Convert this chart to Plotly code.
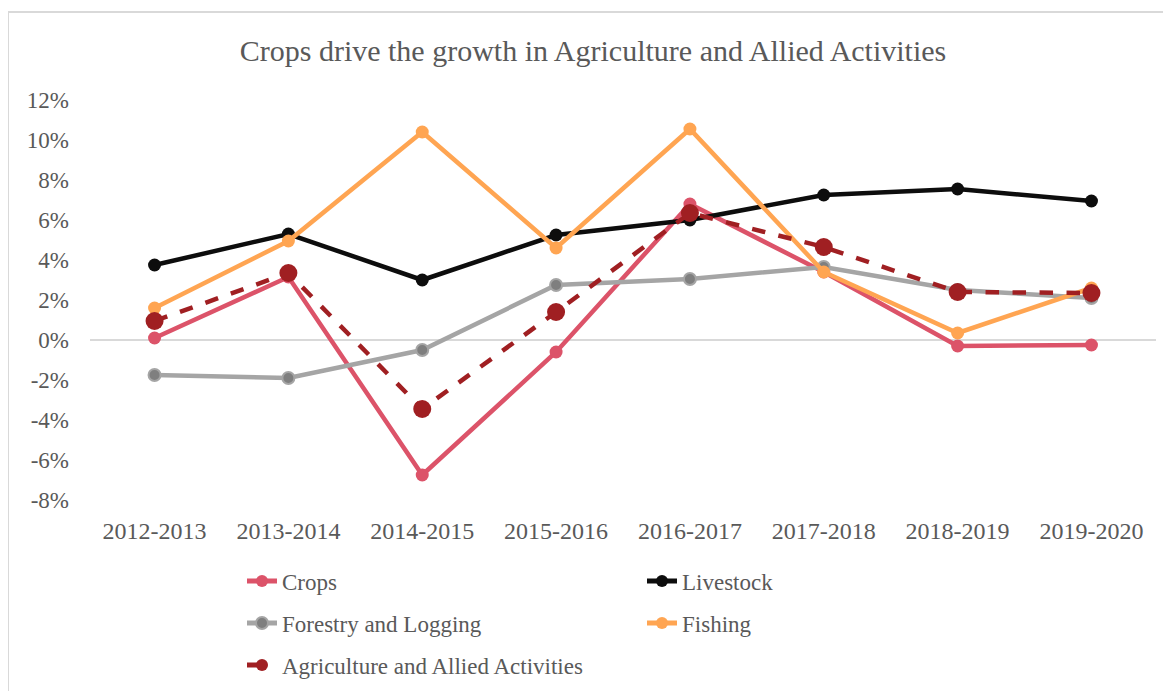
import plotly.graph_objects as go

years = ["2012-2013", "2013-2014", "2014-2015", "2015-2016",
         "2016-2017", "2017-2018", "2018-2019", "2019-2020"]
crops = [0.001, 0.0315, -0.0675, -0.006, 0.068, 0.034, -0.003, -0.0025]
livestock = [0.0375, 0.053, 0.030, 0.0525, 0.060, 0.0725, 0.0755, 0.0695]
forestry = [-0.0175, -0.019, -0.005, 0.0275, 0.0305, 0.0365, 0.025, 0.021]
fishing = [0.016, 0.0495, 0.104, 0.046, 0.1055, 0.034, 0.0035, 0.026]
agri = [0.0095, 0.0335, -0.0345, 0.014, 0.0635, 0.0465, 0.024, 0.0235]

y_tickvals = [-0.08, -0.06, -0.04, -0.02, 0, 0.02, 0.04, 0.06, 0.08, 0.10, 0.12]
y_ticktext = ["-8%", "-6%", "-4%", "-2%", "0%", "2%", "4%", "6%", "8%", "10%", "12%"]

FONT = "Liberation Serif, Times New Roman, serif"
TXT = "#595959"

OFF = 8  # page body margin offset
W, H = 1171, 691
# target page-pixel geometry of plot area
PL, PR, PT, PB = 90, 1156, 100, 500
L, T = PL - OFF, PT - OFF
R = W - (PR - OFF)
B = H - (PB - OFF)
pw, ph = PR - PL, PB - PT


def px_x(x):
    return (x - PL) / pw


def px_y(y):
    return (PB - y) / ph


series = [
    ("Crops", crops, dict(color="#DC5369", width=4.5), dict(color="#DC5369", size=13), "legend"),
    ("Livestock", livestock, dict(color="#0D0D0D", width=4.5), dict(color="#0D0D0D", size=13), "legend2"),
    ("Forestry and Logging", forestry, dict(color="#A5A5A5", width=4.5),
     dict(color="#7F7F7F", size=12, line=dict(color="#A5A5A5", width=2)), "legend3"),
    ("Fishing", fishing, dict(color="#FFA552", width=4.5), dict(color="#FFA552", size=13), "legend4"),
    ("Agriculture and Allied Activities", agri, dict(color="#A01F22", width=4.5, dash="dash"),
     dict(color="#A01F22", size=18), "legend5"),
]

fig = go.Figure()
for name, vals, line, marker, lg in series:
    fig.add_trace(go.Scatter(x=years, y=vals, name=name, mode="lines+markers",
                             line=line, marker=marker, legend=lg))

legend_pos = {
    "legend": (282, 580),
    "legend2": (682, 580),
    "legend3": (282, 622),
    "legend4": (682, 622),
    "legend5": (282, 664),
}
legend_layout = {}
for key, (tx, ty) in legend_pos.items():
    legend_layout[key] = dict(
        x=px_x(tx - 40), y=px_y(ty + 1), xanchor="left", yanchor="middle",
        bgcolor="rgba(0,0,0,0)", font=dict(family=FONT, size=23, color=TXT),
        itemsizing="constant",
    )

fig.update_layout(
    width=W, height=H,
    margin=dict(l=L, r=R, t=T, b=B),
    paper_bgcolor="white", plot_bgcolor="white",
    showlegend=True,
    title=dict(text="Crops drive the growth in Agriculture and Allied Activities",
               x=(593 - OFF) / W, xanchor="center", y=1 - (50 - OFF) / H, yanchor="middle",
               font=dict(family=FONT, size=30, color=TXT)),
    font=dict(family=FONT, color=TXT),
    **legend_layout,
)
fig.update_xaxes(showgrid=False, showline=False, zeroline=False, ticks="",
                 tickfont=dict(family=FONT, size=24, color=TXT),
                 ticklabelstandoff=14)
fig.update_yaxes(range=[-0.08, 0.12], tickvals=y_tickvals, ticktext=y_ticktext,
                 showgrid=False, showline=False, zeroline=True,
                 zerolinecolor="#D9D9D9", zerolinewidth=2, ticks="",
                 tickfont=dict(family=FONT, size=23, color=TXT),
                 ticklabelstandoff=20)

# chart area border (top and left edges visible, rest cropped)
fig.add_shape(type="rect", xref="paper", yref="paper",
              x0=px_x(8), x1=px_x(1250), y0=px_y(760), y1=px_y(12),
              line=dict(color="#D9D9D9", width=2), fillcolor="rgba(0,0,0,0)",
              layer="below")

fig.write_html("out.html")
